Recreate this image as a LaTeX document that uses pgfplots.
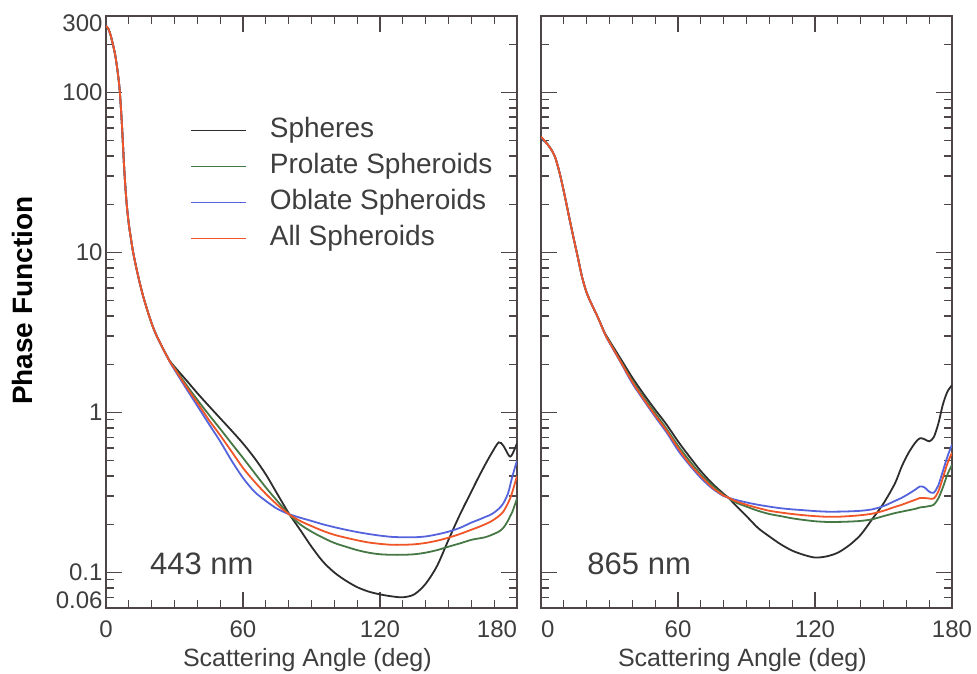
\documentclass[border=0pt]{standalone}
\usepackage{fontspec}
\setmainfont{Liberation Sans}
\usepackage{pgfplots}
\pgfplotsset{compat=1.18}
\usepackage{pgfplotstable}

\definecolor{axcol}{RGB}{78,70,70}
\definecolor{txtcol}{RGB}{62,62,62}
\definecolor{csph}{RGB}{45,45,45}
\definecolor{cpro}{RGB}{70,120,70}
\definecolor{cobl}{RGB}{85,100,220}
\definecolor{call}{RGB}{240,85,40}

% 443 nm
\pgfplotstableread{
x sph pro obl all
0 260 260 260 260
1 250 250 250 250
2 228 228 228 228
3 200 200 200 200
4 172 172 172 172
5 138 138 138 138
6 103 103 103 103
7 62 62 62 62
8 33 33 33 33
9 20.5 20.5 20.5 20.5
10 15 15 15 15
11 12 12 12 12
12 9.8 9.8 9.8 9.8
14 7.2 7.2 7.2 7.2
16 5.5 5.5 5.5 5.5
18 4.4 4.4 4.4 4.4
20 3.6 3.6 3.6 3.6
22 3.05 3.05 3.05 3.05
25 2.5 2.5 2.5 2.5
28 2.09 2.08 2.06 2.07
30 1.93 1.9 1.85 1.88
35 1.6 1.5 1.42 1.46
40 1.32 1.2 1.1 1.15
45 1.1 0.97 0.85 0.9
50 0.92 0.79 0.66 0.72
55 0.77 0.64 0.5 0.57
60 0.64 0.52 0.39 0.45
65 0.52 0.42 0.32 0.37
70 0.41 0.34 0.28 0.31
75 0.31 0.28 0.25 0.265
80 0.235 0.232 0.232 0.232
85 0.185 0.2 0.22 0.21
90 0.145 0.18 0.21 0.195
95 0.117 0.165 0.2 0.182
100 0.1 0.153 0.192 0.172
105 0.089 0.145 0.185 0.165
110 0.081 0.138 0.179 0.159
115 0.076 0.133 0.174 0.154
120 0.073 0.13 0.17 0.151
125 0.071 0.129 0.167 0.149
130 0.07 0.129 0.166 0.149
135 0.073 0.13 0.166 0.15
140 0.085 0.133 0.168 0.153
145 0.11 0.138 0.173 0.158
150 0.16 0.145 0.18 0.165
155 0.23 0.152 0.19 0.174
160 0.32 0.16 0.205 0.185
163 0.39 0.163 0.213 0.192
166 0.47 0.166 0.222 0.2
169 0.56 0.172 0.232 0.21
172 0.65 0.18 0.25 0.225
174 0.62 0.19 0.27 0.24
176 0.55 0.21 0.31 0.27
177 0.53 0.225 0.35 0.29
178 0.55 0.24 0.4 0.32
180 0.64 0.29 0.5 0.4
}\tblA

% 865 nm
\pgfplotstableread{
x sph pro obl all
0 51 52 52 53
2 49 49 49 49
4 45 45 45 45
6 40 40 40 40
8 32 32 32 32
10 24 24 24 24
12 17.5 17.5 17.5 17.5
14 12.8 12.8 12.8 12.8
16 9.5 9.5 9.5 9.5
18 7.0 7.0 7.0 7.0
20 5.6 5.6 5.6 5.6
22 4.8 4.8 4.8 4.8
25 3.9 3.9 3.9 3.9
28 3.12 3.1 3.08 3.09
30 2.8 2.75 2.72 2.74
35 2.15 2.08 2.04 2.06
40 1.65 1.58 1.52 1.55
45 1.3 1.24 1.19 1.21
50 1.04 0.99 0.94 0.96
55 0.84 0.79 0.75 0.77
60 0.66 0.62 0.58 0.6
65 0.53 0.5 0.47 0.48
70 0.43 0.41 0.39 0.4
75 0.36 0.35 0.335 0.34
80 0.31 0.305 0.3 0.302
82 0.294 0.293 0.294 0.294
85 0.265 0.275 0.285 0.28
90 0.225 0.258 0.274 0.265
95 0.19 0.243 0.265 0.253
100 0.168 0.232 0.258 0.243
105 0.15 0.225 0.252 0.237
110 0.137 0.218 0.248 0.232
115 0.129 0.213 0.245 0.228
120 0.124 0.209 0.242 0.225
125 0.126 0.207 0.24 0.223
130 0.133 0.207 0.24 0.223
135 0.148 0.208 0.241 0.225
140 0.172 0.21 0.243 0.228
145 0.215 0.215 0.248 0.233
150 0.27 0.225 0.26 0.243
155 0.36 0.235 0.28 0.257
158 0.46 0.24 0.293 0.265
161 0.56 0.245 0.31 0.275
164 0.65 0.25 0.33 0.285
166 0.69 0.255 0.345 0.292
168 0.68 0.257 0.34 0.292
170 0.66 0.26 0.32 0.29
172 0.7 0.265 0.315 0.29
174 0.85 0.29 0.35 0.32
176 1.12 0.34 0.43 0.39
178 1.35 0.41 0.53 0.48
180 1.48 0.47 0.63 0.56
}\tblB

\begin{document}
\begin{tikzpicture}
\path[use as bounding box] (-106pt,-66pt) rectangle (871pt,608pt);
\begin{axis}[at={(0pt,0pt)}, anchor=south west,
    scale only axis, width=411pt, height=592pt,
    ymode=log,
    xmin=0, xmax=180, ymin=0.06, ymax=300,
    axis line style={axcol, line width=1.6pt},
    xtick={0,60,120,180}, xticklabels={0,60,120,\makebox[0pt][r]{180}},
    minor xtick={10,20,...,170},
    ytick={0.1,1,10,100},
    minor ytick={0.07,0.08,0.09,0.2,0.3,0.4,0.5,0.6,0.7,0.8,0.9,2,3,4,5,6,7,8,9,20,30,40,50,60,70,80,90,200},
    tick align=inside, major tick length=16pt, minor tick length=8pt,
    every tick/.style={axcol, line width=1.3pt},
    tick label style={font=\fontsize{24}{28}\selectfont, text=txtcol},
    xticklabel style={yshift=-9pt},
    xlabel={Scattering Angle (deg)},
    every axis x label/.style={at={(axis description cs:0.49,-0.088)}, anchor=center, font=\fontsize{25}{30}\selectfont, text=txtcol},
  yticklabels={0.1,1,10,100},
  extra y ticks={0.06,300},
  extra y tick labels={\raisebox{8pt}[\height][\depth]{0.06},\raisebox{-7pt}[\height][\depth]{300}},
  extra y tick style={major tick length=0pt},
  ylabel={\textbf{Phase Function}},
  every axis y label/.style={at={(axis description cs:-0.204,0.519)}, rotate=90, anchor=center, font=\fontsize{28}{32}\selectfont, text=black},
  legend style={at={(0.204,0.829)}, anchor=north west, draw=none, fill=none,
    font=\fontsize{28}{32}\selectfont, text=txtcol, inner sep=0pt, row sep=10pt,
    nodes={inner sep=0pt, text height=20pt, text depth=6pt},
    /tikz/every odd column/.append style={column sep=23pt}},
  legend cell align=left,
  legend image code/.code={\draw[#1] (0pt,0pt) -- (55pt,0pt);},
]
\addplot[csph, line width=1.8pt, smooth] table[x=x, y=sph] {\tblA};
\addplot[cpro, line width=1.8pt, smooth] table[x=x, y=pro] {\tblA};
\addplot[cobl, line width=1.8pt, smooth] table[x=x, y=obl] {\tblA};
\addplot[call, line width=1.8pt, smooth] table[x=x, y=all] {\tblA};
\legend{Spheres, Prolate Spheroids, Oblate Spheroids, All Spheroids}
\node[font=\fontsize{31}{36}\selectfont, text=txtcol] at (axis cs:42,0.114) {443 nm};
\end{axis}
\begin{axis}[at={(435pt,0pt)}, anchor=south west,
    scale only axis, width=411pt, height=592pt,
    ymode=log,
    xmin=0, xmax=180, ymin=0.06, ymax=300,
    axis line style={axcol, line width=1.6pt},
    xtick={0,60,120,180}, xticklabels={\makebox[0pt][l]{0},60,120,180},
    minor xtick={10,20,...,170},
    ytick={0.1,1,10,100},
    minor ytick={0.07,0.08,0.09,0.2,0.3,0.4,0.5,0.6,0.7,0.8,0.9,2,3,4,5,6,7,8,9,20,30,40,50,60,70,80,90,200},
    tick align=inside, major tick length=16pt, minor tick length=8pt,
    every tick/.style={axcol, line width=1.3pt},
    tick label style={font=\fontsize{24}{28}\selectfont, text=txtcol},
    xticklabel style={yshift=-9pt},
    xlabel={Scattering Angle (deg)},
    every axis x label/.style={at={(axis description cs:0.49,-0.088)}, anchor=center, font=\fontsize{25}{30}\selectfont, text=txtcol},
  yticklabels={},
]
\addplot[csph, line width=1.8pt, smooth] table[x=x, y=sph] {\tblB};
\addplot[cpro, line width=1.8pt, smooth] table[x=x, y=pro] {\tblB};
\addplot[cobl, line width=1.8pt, smooth] table[x=x, y=obl] {\tblB};
\addplot[call, line width=1.8pt, smooth] table[x=x, y=all] {\tblB};
\node[font=\fontsize{31}{36}\selectfont, text=txtcol] at (axis cs:43,0.114) {865 nm};
\end{axis}
\end{tikzpicture}
\end{document}
